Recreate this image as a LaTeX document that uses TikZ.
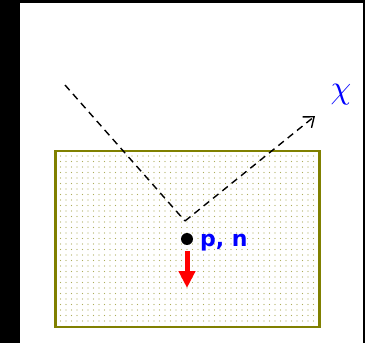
\documentclass[tikz,border=0pt]{standalone}
\usepackage{fontspec}
\newfontfamily\labelfont{DejaVu Sans}
\usetikzlibrary{arrows.meta,patterns}
\definecolor{boxolive}{RGB}{128,128,0}
\pgfdeclarepatternformonly{sparsedots}{\pgfqpoint{-1pt}{-1pt}}{\pgfqpoint{1pt}{1pt}}{\pgfqpoint{5.5pt}{5.5pt}}{%
  \pgfpathcircle{\pgfqpoint{0pt}{0pt}}{0.6pt}\pgfusepath{fill}}
\tikzset{
  dashline/.style={dash pattern=on 7pt off 5pt, line width=1.4pt, black},
  targetbox/.style={draw=boxolive, line width=2.4pt, pattern=sparsedots, pattern color=boxolive!65},
  kick/.style={red, line width=5pt, -{Triangle[width=16pt,length=17pt]}},
}
\begin{document}
\begin{tikzpicture}[x=1pt,y=-1pt]
\fill[black] (0,0) rectangle (365,343);
\fill[white] (20,3) rectangle (363,343);
\useasboundingbox (0,0) rectangle (365,343);
\node[targetbox, minimum width=264pt, minimum height=176pt, inner sep=0pt] (box) at (187.5,239) {};
\coordinate (in) at (65,85);
\coordinate (v) at (185,221);
\coordinate (out) at (315,116);
\draw[dashline] (in) -- (v);
\draw[dashline, -{Straight Barb[length=9pt,width=14pt,line width=1.4pt]}] (v) -- (out);
\node[blue, scale=3.3, inner sep=0pt] (chi) at (341,95) {$\chi$};
\fill[black] (187,239) circle (6pt);
\coordinate (nuc) at (187,239);
\node[blue, font=\labelfont\bfseries\fontsize{22}{24}\selectfont, anchor=west, inner sep=0pt] (pn) at (200,243) {p, n};
\coordinate (ks) at (187,251);
\coordinate (ke) at (187,288);
\draw[kick] (ks) -- (ke);
\end{tikzpicture}
\end{document}
